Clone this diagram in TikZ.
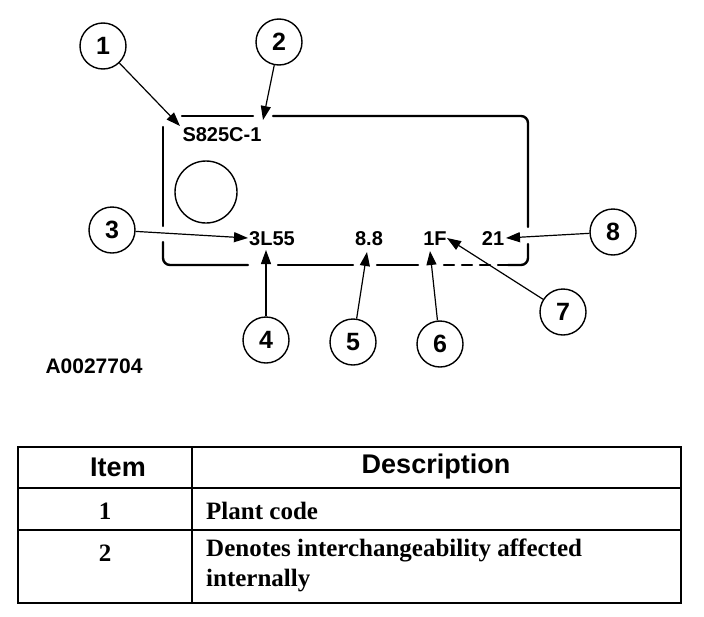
\documentclass[tikz,border=0pt]{standalone}
\usepackage{fontspec}
\setmainfont{Liberation Serif}
\setsansfont{Liberation Sans}
\usetikzlibrary{arrows.meta}

\begin{document}
\begin{tikzpicture}[x=1pt, y=-1pt]
  \tikzset{
    callout/.style={draw, circle, line width=1.4pt, minimum size=46pt, inner sep=0pt,
                    font=\fontsize{25}{25}\sffamily\bfseries},
    code/.style={inner sep=0pt, font=\fontsize{20}{20}\sffamily\bfseries},
    pointer/.style={line width=1.2pt, -{Triangle[length=14pt, width=10pt]}},
    edge/.style={line width=2.4pt, line cap=round},
    rule/.style={line width=2pt},
    head/.style={inner sep=0pt, font=\fontsize{27}{27}\sffamily\bfseries},
    cell/.style={inner sep=0pt, font=\fontsize{25}{30}\bfseries},
  }
  \useasboundingbox[fill=white] (0,0) rectangle (704,616);
  %
  %%% TAG %%%
  % Outline with gaps for the pointers
  \draw[edge] (182,116) -- (253,116);
  \draw[edge] (273,116) -- (521,116) arc[start angle=-90, end angle=0, radius=7] -- (528,227);
  \draw[edge] (528,244) -- (528,258) arc[start angle=0, end angle=90, radius=7] -- (508,265);
  \draw[edge, dash pattern=on 10pt off 8pt] (508,265) -- (440,265);
  \draw[edge] (418,265) -- (377,265);
  \draw[edge] (353,265) -- (278,265);
  \draw[edge] (248,265) -- (170,265) arc[start angle=90, end angle=180, radius=7] -- (163,242);
  \draw[edge] (163,226) -- (163,127);
  \draw[line width=1.4pt] (206,192) circle[radius=31];
  %
  % Stamped codes
  \node[code] (plant) at (222,135) {S825C-1};
  \node[code] (base)  at (272,239) {3L55};
  \node[code] (grade) at (369,239) {8.8};
  \node[code] (rev)   at (435,239) {1F};
  \node[code] (seq)   at (493,239) {21};
  %
  % Pointer tips
  \coordinate (p1) at (180,126);
  \coordinate (p2) at (263,120);
  \coordinate (p3) at (248,238);
  \coordinate (p4) at (266,250);
  \coordinate (p5) at (367,252);
  \coordinate (p6) at (430,251);
  \coordinate (p7) at (447,238);
  \coordinate (p8) at (506,238);
  %
  % Callouts
  \foreach \n/\x/\y in {1/103/46, 2/279/42, 3/112/230, 4/266/340,
                        5/353/342, 6/440/344, 7/563/312, 8/613/232} {
    \node[callout] (c\n) at (\x,\y) {\n};
    \draw[pointer] (c\n) -- (p\n);
  }
  %
  \node[code, font=\fontsize{21}{21}\sffamily\bfseries] (fig) at (94,366) {A0027704};
  %
  %%% TABLE %%%
  \draw[rule] (18,447) rectangle (681,603);
  \draw[rule] (18,488) -- (681,488);
  \draw[rule] (18,530) -- (681,530);
  \draw[rule] (192,447) -- (192,603);
  %
  \node[head] (hitem) at (118,467) {Item};
  \node[head] (hdesc) at (436,467) {Description};
  \node[cell] (n1) at (105,511) {1};
  \node[cell, anchor=west] (d1) at (206,511) {Plant code};
  \node[cell] (n2) at (105,553) {2};
  \node[cell, anchor=north west, align=left] (d2) at (206,539)
    {Denotes interchangeability affected\\internally};
\end{tikzpicture}
\end{document}
